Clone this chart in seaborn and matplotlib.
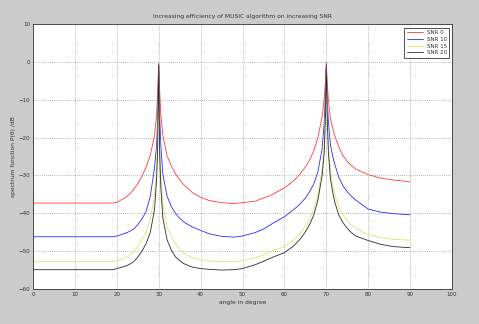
import matplotlib
matplotlib.use("Agg")
import matplotlib.pyplot as plt
import seaborn as sns
import pandas as pd

angle = [0, 10, 19, 20, 22, 23, 24, 25, 26, 27, 28, 29, 29.5, 29.75, 30, 30.25, 30.5, 31, 32, 33,
         34, 35, 36, 38, 40, 42, 45, 48, 50, 53, 55, 57, 60, 62, 63, 64, 65, 66, 67, 68, 69, 69.5,
         69.75, 70, 70.25, 70.5, 71, 71.5, 72, 73, 74, 75, 76, 77, 80, 83, 86, 90]

snr0 = [-37.3, -37.3, -37.3, -37.1, -35.9, -35.0, -33.8, -32.2, -30.2, -27.8, -24.6, -19.5, -14, -8,
        -0.3, -8, -14, -19.5, -24.8, -27.5, -29.5, -31.2, -32.5, -34.5, -35.8, -36.6, -37.2, -37.4,
        -37.2, -36.8, -36.0, -35.1, -33.3, -31.6, -30.5, -29.2, -27.8, -26.0, -23.5, -20.0, -14.5,
        -10, -6, -0.2, -6, -10, -15, -17.5, -19.5, -22.5, -24.8, -26.3, -27.4, -28.3, -29.8, -30.7,
        -31.2, -31.7]

snr10 = [-46.2, -46.2, -46.2, -46.0, -45.3, -44.8, -44.2, -43.0, -41.5, -39.5, -35.5, -28, -22, -15,
         -0.8, -15, -22, -29.8, -35.5, -38.2, -40, -41.3, -42.3, -43.6, -44.5, -45.4, -46.1, -46.3,
         -46.0, -45.1, -44.2, -42.8, -40.9, -39.2, -38.3, -37.2, -36.0, -34.3, -32.3, -29, -23,
         -16, -10, -0.8, -10, -16, -22, -24.8, -27, -30.5, -32.8, -34.3, -35.5, -36.5, -38.9, -39.7,
         -40.1, -40.4]

snr15 = [-52.8, -52.8, -52.8, -52.5, -51.8, -51.1, -50.2, -48.8, -47, -45, -41.5, -35.5, -28, -20,
         -1.5, -22, -30, -37.8, -43.5, -46.2, -48, -49.4, -50.5, -51.7, -52.3, -52.6, -52.8, -52.8,
         -52.5, -51.8, -51, -50, -48.8, -47.2, -46.2, -45, -43.4, -41.5, -39, -35, -28.5,
         -22, -14, -1.5, -14, -22, -29, -32.3, -35, -38.5, -40.5, -42, -43.1, -44, -45.6, -46.4,
         -46.9, -47.1]

snr20 = [-54.9, -54.9, -54.9, -54.6, -54, -53.5, -52.8, -51.6, -50, -48, -45, -39, -31, -23,
         -1, -25, -33, -41.3, -47, -49.7, -51.5, -52.5, -53.3, -54.2, -54.6, -54.8, -55, -54.9,
         -54.6, -53.6, -52.7, -51.7, -50.4, -48.8, -47.7, -46.5, -44.9, -43, -40.5, -36.5, -30,
         -24, -16, -1.5, -16, -24, -31, -34.3, -37, -40.5, -42.5, -44, -45.1, -46, -47.2, -48.2,
         -48.8, -49.1]

labels = ["SNR 0", "SNR 10", "SNR 15", "SNR 20"]
colors = ["#ff3a3a", "#2a2aff", "#e2e26a", "#2a2a2a"]

frames = []
for lab, vals in zip(labels, [snr0, snr10, snr15, snr20]):
    frames.append(pd.DataFrame({"angle": angle, "P": vals, "series": lab}))
df = pd.concat(frames, ignore_index=True)

sns.set_style("white")
plt.rcParams["font.family"] = ["DejaVu Sans"]

fig = plt.figure(figsize=(4.79, 3.24), dpi=100, facecolor="#cbcbcb")
ax = fig.add_axes([33/479, 1-289/324, (452-33)/479, (289-24)/324])
ax.set_facecolor("white")

sns.lineplot(data=df, x="angle", y="P", hue="series", palette=colors, hue_order=labels,
             linewidth=0.6, ax=ax, sort=False, estimator=None)

ax.set_xlim(0, 100)
ax.set_ylim(-60, 10)
ax.set_xticks(range(0, 101, 10))
ax.set_yticks(range(-60, 11, 10))
ax.grid(True, linestyle=(0, (1, 2)), color="#777777", linewidth=0.5)
ax.tick_params(direction="in", length=2.5, labelsize=4, pad=2, colors="#333333")
for s in ax.spines.values():
    s.set_color("#333333")
    s.set_linewidth(0.6)

ax.set_title("Increasing efficiency of MUSIC algorithm on increasing SNR", fontsize=4.3, pad=4,
             color="#333333")
ax.set_xlabel("angle in degree", fontsize=4.3, labelpad=2, color="#333333")
ax.set_ylabel("spectrum function P(θ) /dB", fontsize=4.3, labelpad=2, color="#333333")

leg = ax.legend(loc="upper right", fontsize=4, frameon=True, fancybox=False,
                borderpad=0.4, handlelength=3, labelspacing=0.3, handletextpad=0.6,
                bbox_to_anchor=(0.9995, 0.995))
leg.get_frame().set_edgecolor("#333333")
leg.get_frame().set_linewidth(0.6)
leg.get_frame().set_alpha(1)
for t in leg.get_texts():
    t.set_color("#333333")

fig.savefig("out.png", dpi=100, facecolor=fig.get_facecolor())
